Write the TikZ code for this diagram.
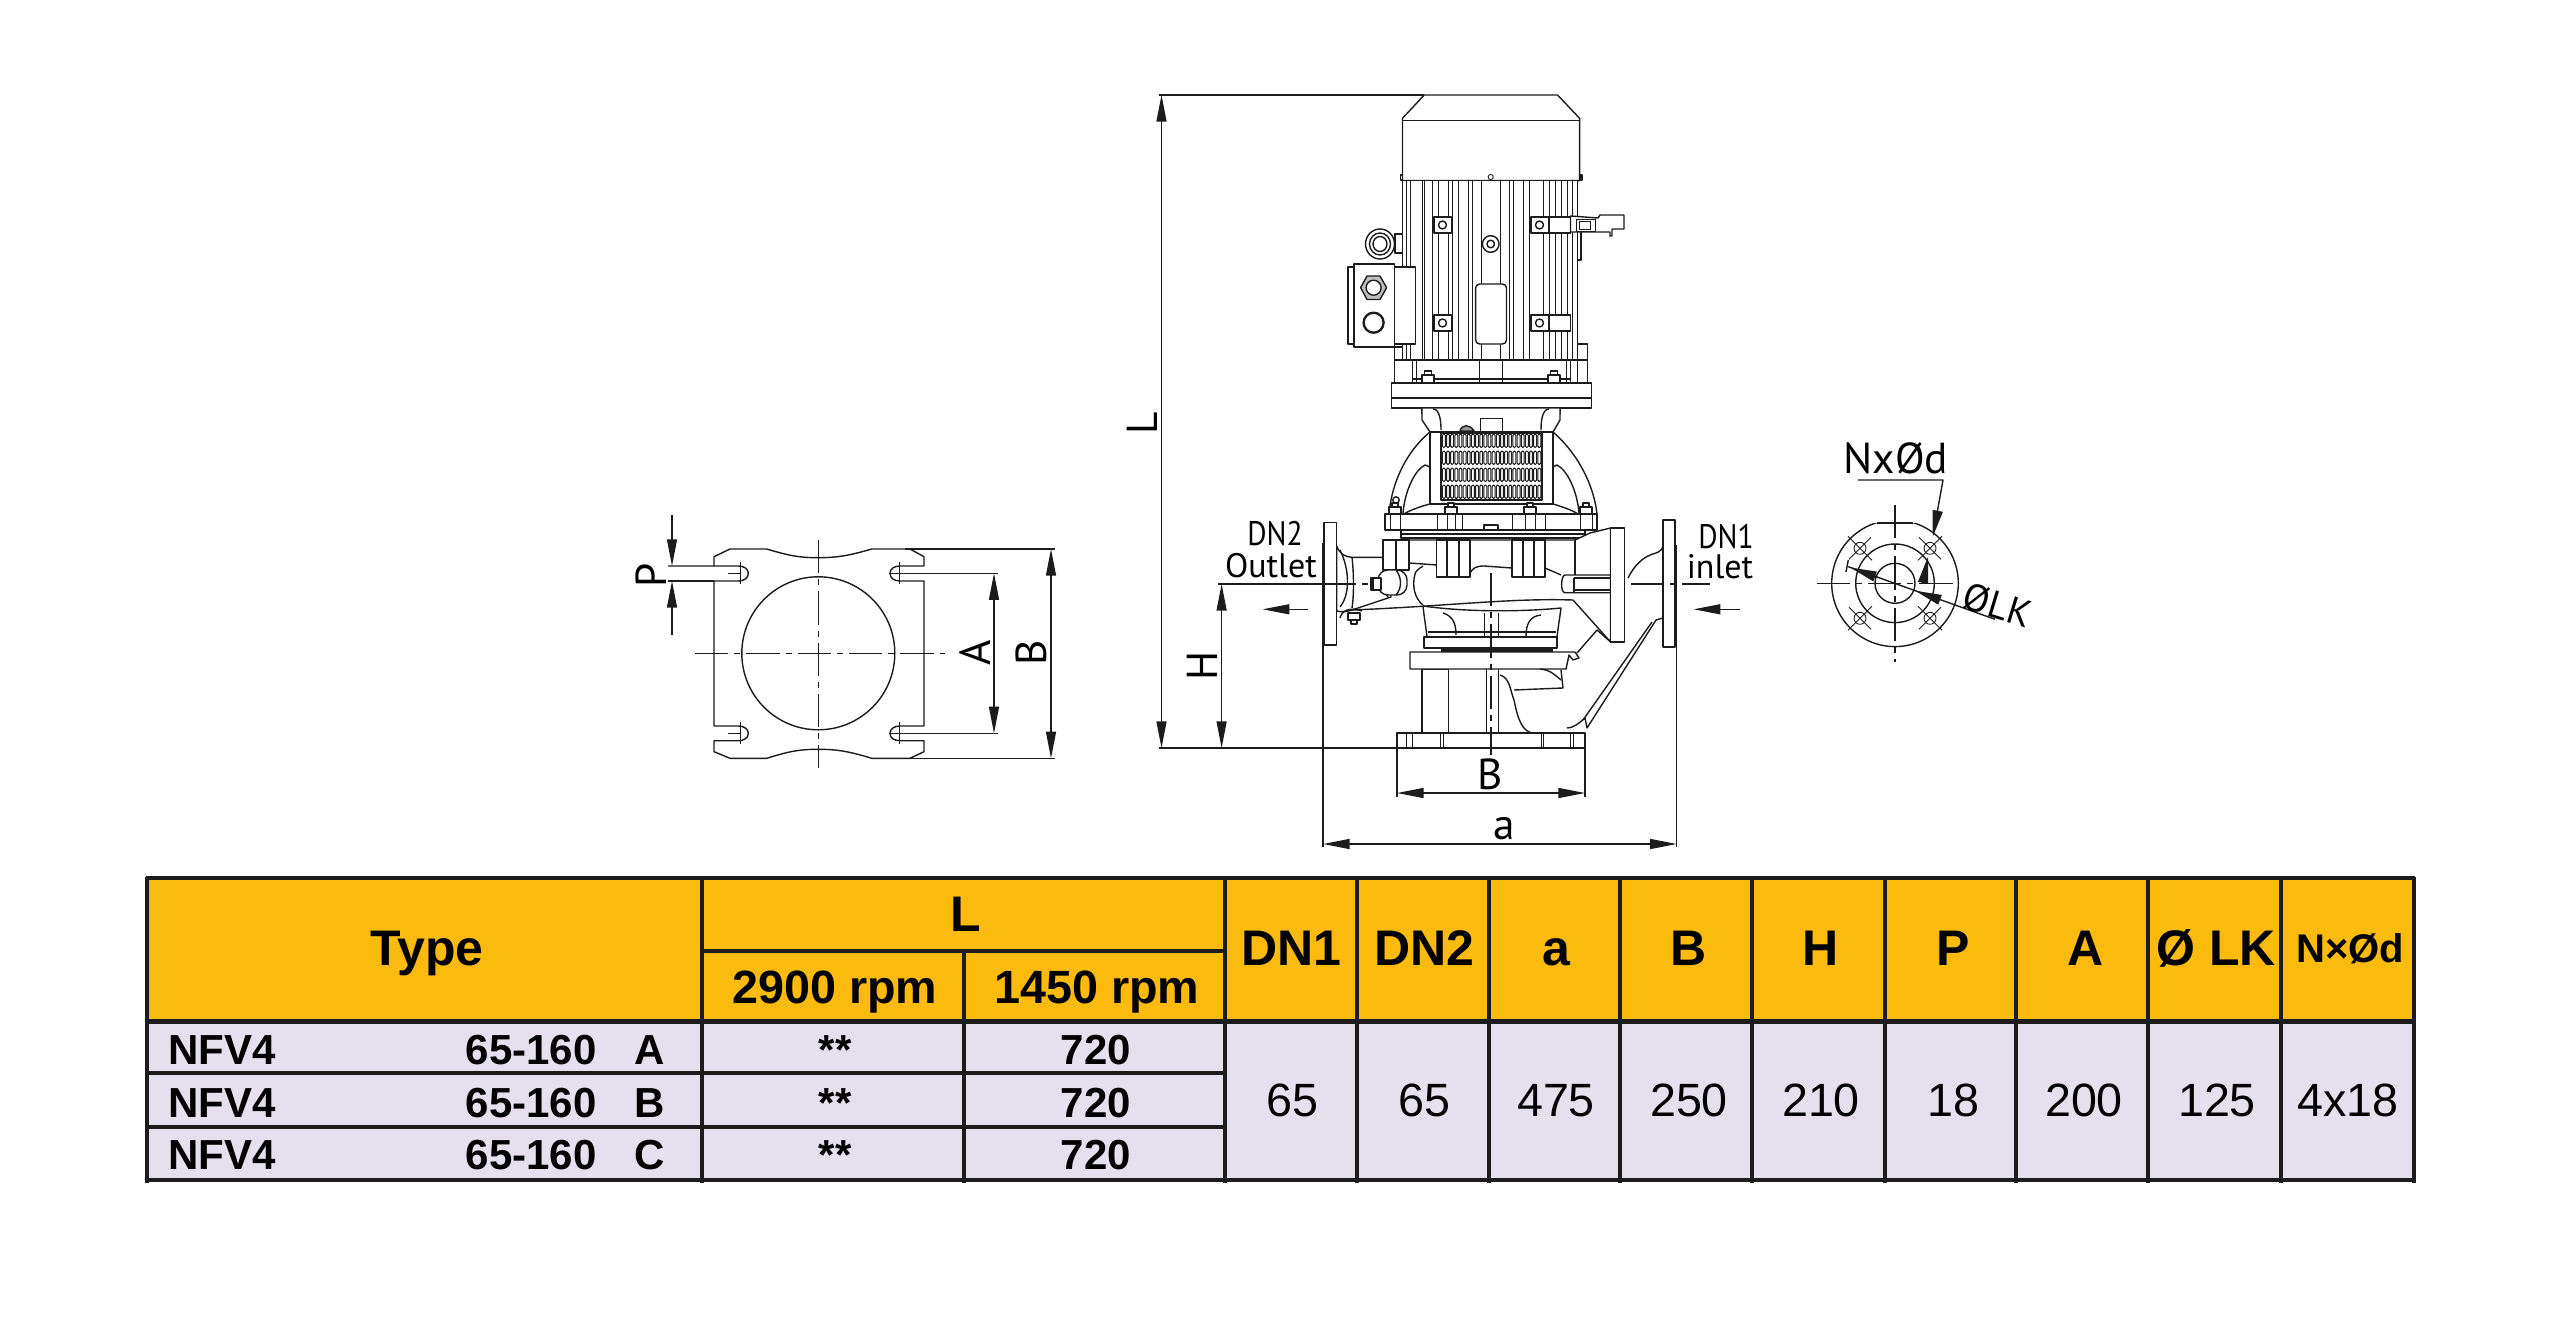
\documentclass[tikz,border=0pt]{standalone}
\usepackage{fontspec}
\usepackage{graphicx}
\setmainfont{Liberation Sans}
\newfontfamily\din{PT Sans}
\usetikzlibrary{arrows.meta}
\definecolor{hdr}{HTML}{FBBA0E}
\definecolor{rowc}{HTML}{E6E0EE}
\definecolor{ink}{HTML}{1C1C1C}
\tikzset{
 x=0.3pt,y=-0.3pt,
 ln/.style={draw=ink,line width=0.42pt,line join=round},
 thin ln/.style={draw=ink,line width=0.26pt},
 solidwhite/.style={ln,fill=white},
 dim/.style={draw=ink,line width=0.42pt,{Triangle[length=8pt,width=3pt]}-{Triangle[length=8pt,width=3pt]}},
 tipend/.style={draw=ink,line width=0.42pt,-{Triangle[length=8pt,width=3pt]}},
 axis/.style={draw=ink,line width=0.4pt,dash pattern=on 10pt off 1.8pt on 1.8pt off 1.8pt},
 grid/.style={draw=ink,line width=0.95pt},
 hb/.style={anchor=base,inner sep=0,font=\fontsize{15}{15}\selectfont\bfseries},
 hs/.style={anchor=base,inner sep=0,font=\fontsize{14}{14}\selectfont\bfseries},
 rowt/.style={anchor=base,inner sep=0,font=\fontsize{12.6}{12.6}\selectfont\bfseries},
 val/.style={anchor=base,inner sep=0,font=\fontsize{14}{14}\selectfont},
 lab/.style={anchor=base,inner sep=0,font=\din\fontsize{13}{13}\selectfont},
 lab2/.style={anchor=base,inner sep=0,font=\din\fontsize{10.2}{10.2}\selectfont},
}
\begin{document}
\begin{tikzpicture}
\useasboundingbox (0,0) rectangle (2560,1332);
\fill[white] (0,0) rectangle (2560,1332);

% ---------- table
\fill[hdr] (147,878) rectangle (2414,1020);
\fill[rowc] (147,1021) rectangle (2414,1180);
\foreach \x in {702,1225,1357,1489,1620,1752,1885,2016,2148,2281}
  \draw[grid] (\x,878) -- (\x,1183);
\draw[grid] (964,951) -- (964,1183);
\draw[grid] (147,877) -- (147,1183);
\draw[grid] (2414,877) -- (2414,1183);
\draw[grid] (146,878) -- (2415,878);
\draw[grid] (702,951) -- (1225,951);
\draw[draw=ink,line width=1.5pt] (146,1021) -- (2415,1021);
\draw[grid] (147,1073) -- (1225,1073);
\draw[grid] (147,1127) -- (1225,1127);
\draw[draw=ink,line width=1.2pt] (146,1180) -- (2415,1180);

\node[hb] (tType) at (427,965) {Type};
\node[hb] (tL) at (966,931) {L};
\node[hs] (t29) at (835,1003) {2900 rpm};
\node[hs] (t14) at (1097,1003) {1450 rpm};
\node[hb] (hDNa) at (1291,965) {DN1};
\node[hb] (hDNb) at (1424,965) {DN2};
\node[hb] (ha) at (1556,965) {a};
\node[hb] (hB) at (1689,965) {B};
\node[hb] (hH) at (1821,965) {H};
\node[hb] (hP) at (1953,965) {P};
\node[hb] (hA) at (2086,965) {A};
\node[hb] (hLK) at (2216,965) {Ø LK};
\node[anchor=base,inner sep=0,font=\fontsize{12}{12}\selectfont\bfseries] (hNd) at (2350,962) {N×Ød};

\node[rowt,anchor=base west] (r1a) at (168,1064) {NFV4};
\node[rowt,anchor=base west] (r1b) at (465,1064) {65-160};
\node[rowt] (r1c) at (650,1064) {A};
\node[rowt] (r1d) at (835,1064) {**};
\node[rowt] (r1e) at (1096,1064) {720};
\node[rowt,anchor=base west] (r2a) at (168,1117) {NFV4};
\node[rowt,anchor=base west] (r2b) at (465,1117) {65-160};
\node[rowt] (r2c) at (650,1117) {B};
\node[rowt] (r2d) at (835,1117) {**};
\node[rowt] (r2e) at (1096,1117) {720};
\node[rowt,anchor=base west] (r3a) at (168,1169) {NFV4};
\node[rowt,anchor=base west] (r3b) at (465,1169) {65-160};
\node[rowt] (r3c) at (650,1169) {C};
\node[rowt] (r3d) at (835,1169) {**};
\node[rowt] (r3e) at (1096,1169) {720};

\node[val] (v1) at (1292,1116) {65};
\node[val] (v2) at (1424,1116) {65};
\node[val] (v3) at (1556,1116) {475};
\node[val] (v4) at (1689,1116) {250};
\node[val] (v5) at (1821,1116) {210};
\node[val] (v6) at (1953,1116) {18};
\node[val] (v7) at (2084,1116) {200};
\node[val] (v8) at (2217,1116) {125};
\node[val] (v9) at (2348,1116) {4x18};

% ---------- plan view of base
\draw[ln] (714,566) -- (714,556.7) -- (730,549) -- (766.7,549)
  .. controls (790,556) and (800,557.7) .. (818.3,557.7)
  .. controls (836,557.7) and (848,556) .. (871.7,549)
  -- (910,549) -- (924,556.7) -- (924,566) -- (900,566)
  .. controls (894,566) and (890,569) .. (890,573.3)
  .. controls (890,578) and (894,581) .. (900,581)
  -- (924,581) -- (924,726) -- (900,726)
  .. controls (894,726) and (890,729) .. (890,733.3)
  .. controls (890,738) and (894,740.7) .. (900,740.7)
  -- (924,740.7) -- (924,751.7) -- (910,758.3) -- (871.7,758.3)
  .. controls (848,751) and (836,749.3) .. (818.3,749.3)
  .. controls (800,749.3) and (790,751) .. (766.7,758.3)
  -- (730,758.3) -- (714,751.7) -- (714,740.7) -- (738.3,740.7)
  .. controls (744,740.7) and (748.3,738) .. (748.3,733.3)
  .. controls (748.3,729) and (744,726) .. (738.3,726)
  -- (714,726) -- (714,581) -- (738.3,581)
  .. controls (744,581) and (748.3,578) .. (748.3,573.3)
  .. controls (748.3,569) and (744,566) .. (738.3,566)
  -- (668,566);
\draw[ln] (668,581) -- (714,581);
\draw[ln] (818.3,653.3) circle[radius=76.5];
\draw[axis] (695,653.3) -- (945,653.3);
\draw[axis] (818.3,540) -- (818.3,768);
\foreach \cx/\cy in {738/573.3,738/733.3}{
  \draw[thin ln] (\cx-10,\cy) -- (\cx+2,\cy);
  \draw[thin ln] (\cx+2,\cy-11) -- (\cx+2,\cy+11);}
\foreach \cx/\cy in {899/573.3,899/733.3}{
  \draw[thin ln] (\cx-10,\cy) -- (\cx+2,\cy);
  \draw[thin ln] (\cx,\cy-11) -- (\cx,\cy+11);}
\draw[tipend] (672,515) -- (672,566);
\draw[tipend] (672,635) -- (672,581);
\draw[ln] (900,573.3) -- (998,573.3);
\draw[ln] (900,733.3) -- (998,733.3);
\draw[dim] (994,573.3) -- (994,733.3);
\draw[ln] (905,549) -- (1055,549);
\draw[ln] (905,758.3) -- (1055,758.3);
\draw[dim] (1051,549) -- (1051,758.3);
\node[lab,rotate=90] (lP) at (666,575) {P};
\node[lab,rotate=90] (lA) at (990,653) {A};
\node[lab,rotate=90] (lBp) at (1046,653) {B};

% ---------- main dimension lines
\coordinate (Ltop) at (1161.5,95);
\coordinate (Lbot) at (1161.5,748);
\draw[ln] (1159,95) -- (1424,95);
\draw[ln] (1159,748) -- (1397,748);
\draw[dim] (Ltop) -- (Lbot);
\node[lab,rotate=90] (lL) at (1157,423) {L};
\draw[ln] (1218,584) -- (1323,584);
\draw[dim] (1221.6,584) -- (1221.6,748);
\node[lab,rotate=90] (lH) at (1217,666) {H};
\draw[ln] (1323,543) -- (1323,847);
\draw[ln] (1676.7,545) -- (1676.7,847);
\draw[dim] (1323,844) -- (1676.7,844);
\node[lab] (la) at (1504,839) {a};
\draw[ln] (1397,748) -- (1397,797);
\draw[ln] (1585,748) -- (1585,797);
\draw[dim] (1397,793) -- (1585,793);
\node[lab] (lBm) at (1490,789) {B};
\node[lab2] (lDN2) at (1275,545) {\scalebox{.87}[1]{DN2}};
\node[lab2] (lOut) at (1271,577) {Outlet};
\node[lab2] (lDN1) at (1726,548) {\scalebox{.87}[1]{DN1}};
\node[lab2] (lIn) at (1720,578) {inlet};
\draw[tipend] (1308,609.3) -- (1262.7,609.3);
\draw[tipend] (1740,609.3) -- (1693.7,609.3);

% ---------- motor
\draw[solidwhite] (1424.2,95) -- (1557.5,95) -- (1579.6,118.3) -- (1579.6,180.7) -- (1402.5,180.7) -- (1402.5,118.3) -- cycle;
\draw[ln] (1402.5,120.5) -- (1579.6,120.5);
\draw[ln] (1400.5,175) rectangle (1402.5,180);
\draw[ln] (1580,175) rectangle (1582,180);
\draw[thin ln] (1490.7,177) circle[radius=2.6];
\draw[solidwhite] (1402.5,180.7) rectangle (1577.7,360);
\foreach \x in {1406.4,1410,1422,1424,1432,1438,1448,1452,1458,1468,1472,1481.6,1500,1509,1513,1523,1529,1543,1549,1555,1561,1567,1572.5}
  \draw[thin ln] (\x,181) -- (\x,360);
\draw[solidwhite] (1577.7,220) rectangle (1581,260);
% pads
\foreach \px/\py in {1434/217,1434/315}{
  \draw[solidwhite] (\px,\py) rectangle (\px+17.5,\py+16);
  \draw[ln] (\px+8.5,\py+8) circle[radius=4];}
\foreach \px/\py in {1531/217,1531/315}{
  \draw[solidwhite] (\px,\py) rectangle (\px+39.5,\py+16);
  \draw[ln] (\px+18,\py-0) -- (\px+18,\py+16);
  \draw[ln] (\px+8.5,\py+8) circle[radius=4];}
% lug
\draw[solidwhite] (1570.5,216) -- (1570.5,232) -- (1610,232) -- (1610,236) -- (1612,236) -- (1612,229) -- (1624,229) -- (1624,215) -- (1600,215) -- (1598,218) -- cycle;
\draw[thin ln] (1576,219) rectangle (1595,231);
\draw[thin ln] (1579,221) rectangle (1590,229);
% centre channel
\draw[ln,fill=white] (1490.7,244) circle[radius=8.3];
\draw[ln] (1490.7,244) circle[radius=3.8];
\draw[solidwhite,rounded corners=1.2pt] (1475.6,284) rectangle (1506.5,344);
% eye bolt
\draw[ln,fill=white] (1395,234) rectangle (1402.5,253);
\draw[solidwhite] (1380,244) ellipse[x radius=14.5,y radius=15];
\draw[ln] (1380,244) ellipse[x radius=10.5,y radius=11];
\draw[ln] (1380,244) ellipse[x radius=7,y radius=7.5];
% terminal box
\draw[solidwhite] (1394.6,267) rectangle (1415.5,344);
\draw[solidwhite] (1348,267) rectangle (1354,344);
\draw[solidwhite] (1354,264) rectangle (1394.6,347);
\draw[ln,fill=black!25] (1386.6,287.7) -- (1380,276) -- (1367,276) -- (1360.6,287.7) -- (1367,299.5) -- (1380,299.5) -- cycle;
\draw[solidwhite] (1373.6,287.7) circle[radius=7.5];
\draw[ln,line width=.7pt] (1373.6,322.7) circle[radius=10];
% flange band
\draw[solidwhite] (1394.6,347) -- (1394.6,382.7) -- (1587.5,382.7) -- (1587.5,344) -- (1577.7,344) -- (1577.7,360) -- (1402.5,360) -- (1402.5,347) -- cycle;
\draw[ln] (1394.6,360) -- (1587.5,360);
\foreach \x in {1412,1416,1566.6,1570.5,1577.6}
  \draw[thin ln] (\x,360) -- (\x,382);
\draw[ln] (1479.5,360) rectangle (1502.5,383);
\draw[ln] (1412,379) -- (1570,379);
\foreach \x in {1428,1554}{
  \draw[solidwhite] (\x-6,375) rectangle (\x+6,383);
  \draw[solidwhite] (\x-3.5,371) rectangle (\x+3.5,375);}
\draw[solidwhite] (1391.4,383) rectangle (1591.5,408);
\draw[ln] (1391.4,398) -- (1591.5,398);
\draw[ln] (1484,383) -- (1497,383);

% ---------- adapter / lantern
\foreach \x in {1428,1554}{
  \draw[solidwhite] (\x-6,408) rectangle (\x+6,414);}
\draw[solidwhite] (1422,408) -- (1422,420) -- (1430,432) -- (1553,432) -- (1560,420) -- (1560,408) -- cycle;
\draw[ln] (1433,409) .. controls (1440,409) and (1441,422) .. (1441,430);
\draw[ln] (1549,409) .. controls (1542,409) and (1541,422) .. (1541,430);
\draw[thin ln] (1480,418) rectangle (1502,431);
\draw[ln,fill=black!40] (1460,431) .. controls (1462,424) and (1470,424) .. (1474,431) -- cycle;
% arch
\draw[solidwhite] (1389,514)
  .. controls (1392,480) and (1408,450) .. (1430,432)
  -- (1553,432)
  .. controls (1574,450) and (1593,480) .. (1597,514) -- cycle;
\draw[ln] (1403,513) .. controls (1405,490) and (1415,470) .. (1425,465) -- (1430,467);
\draw[ln] (1579,513) .. controls (1577,490) and (1567,470) .. (1557,465) -- (1553,467);
\draw[ln] (1404,514) .. controls (1410,510) and (1422,506) .. (1430,504);
\draw[ln] (1578,514) .. controls (1572,510) and (1560,506) .. (1553,504);
\draw[ln] (1396,500) circle[radius=3.2];
\draw[solidwhite] (1430,432) rectangle (1553,504);
\draw[solidwhite] (1441,433) rectangle (1542,500);
\foreach \yy in {434,451,468,485}
 \foreach \i in {0,...,23}
  \draw[draw=ink,line width=.3pt,rounded corners=.4pt] (1442.4+4.15*\i,\yy) rectangle ++(2.9,13.5);
% housing flange
\foreach \x in {1395,1451,1530,1586}{
  \draw[solidwhite] (\x-6,507) rectangle (\x+6,514);
  \draw[solidwhite] (\x-3,503) rectangle (\x+3,507);}
\draw[solidwhite] (1385,514) rectangle (1597,530);
\foreach \x in {1390,1400,1437,1447,1455,1462,1512,1525,1535,1545,1580,1592}
  \draw[thin ln] (\x,514) -- (\x,530);
\draw[solidwhite] (1401,530) rectangle (1585,538);
\draw[ln] (1401,534) -- (1585,534);
\draw[ln] (1484,530) -- (1484,525) -- (1498,525) -- (1498,530);

% ---------- left flange & pipe
\draw[solidwhite] (1336.6,546) .. controls (1340,554) and (1345,557) .. (1352,557.3) -- (1383,557.3)
  -- (1383,590) -- (1390,600) -- (1352,610) .. controls (1346,612) and (1341,612) .. (1336.6,611) -- cycle;
\draw[ln] (1340,550) .. controls (1350,570) and (1350,595) .. (1340,607);
\draw[ln] (1352,557) .. controls (1354,575) and (1354,595) .. (1352,608);
\draw[solidwhite] (1324,522.7) rectangle (1336.6,645);
\draw[ln] (1340,618) .. controls (1342,610) and (1350,607) .. (1362,611);
\draw[solidwhite] (1348,613) rectangle (1360,620);
\draw[solidwhite] (1351,620) rectangle (1357,624);

% ---------- volute
\draw[solidwhite] (1383,540) -- (1575,540) -- (1590,533) -- (1610.6,528) -- (1610.6,642) -- (1573,600)
  .. controls (1510,598) and (1450,606) .. (1352,610)
  -- (1391,597) -- (1391,570) -- (1383,570) -- cycle;
\draw[ln] (1383,540) rectangle (1409,570);
\draw[ln] (1396,540) -- (1396,570);
\draw[ln] (1409,563) -- (1437,565);
\draw[ln] (1470,573) .. controls (1473,568) and (1476,566) .. (1484,566) -- (1512,568);
\draw[ln] (1545,568) -- (1561,575);
\draw[solidwhite] (1436.7,540) rectangle (1470,577);
\draw[ln] (1447,540) -- (1447,577);
\draw[ln] (1459,540) -- (1459,577);
\draw[solidwhite] (1512,540) rectangle (1545,577);
\draw[ln] (1523,540) -- (1523,577);
\draw[ln] (1534,540) -- (1534,577);
\draw[ln] (1575,540) -- (1575,575);
\draw[ln] (1415,574) .. controls (1412,585) and (1414,598) .. (1423,605);
\draw[ln] (1423,566) .. controls (1418,569) and (1415,572) .. (1415,574);
% side sleeve
\draw[solidwhite] (1610.6,575) -- (1565,575) .. controls (1561,575) and (1560,592.7) .. (1565,592.7) -- (1610.6,592.7) -- cycle;
\draw[ln] (1574,578) -- (1610,578);
\draw[ln] (1574,590) -- (1610,590);
\draw[ln] (1574,578) -- (1574,592);
% side nut
\draw[solidwhite,rounded corners=3pt] (1378,570) rectangle (1407,595);
\draw[ln] (1396,570) .. controls (1402,578) and (1402,588) .. (1396,595);
\draw[solidwhite] (1371,578) rectangle (1381,590);
\draw[ln] (1373,578) -- (1373,590);
% inner right flange
\draw[solidwhite] (1610.6,528) rectangle (1624.5,642);
\draw[ln] (1597,630) -- (1577,653);
\draw[ln] (1610.6,642) -- (1597,630);

% ---------- cup below volute
\draw[solidwhite] (1423,606) .. controls (1424,616) and (1426,628) .. (1427,637) -- (1557,637)
  .. controls (1558,628) and (1560,616) .. (1561,608)
  .. controls (1520,612) and (1465,612) .. (1423,606);
\draw[ln] (1428,632) -- (1556,632);
\draw[ln] (1443,613) .. controls (1452,616) and (1456,622) .. (1456,635);
\draw[ln] (1541,615) .. controls (1530,616) and (1526,624) .. (1526,636);
\foreach \x in {1484,1498} \draw[thin ln] (\x,613) -- (\x,637);
\draw[solidwhite] (1424,637) rectangle (1557,648);
\draw[draw=ink,line width=.9pt] (1441,650) -- (1553,650);

% ---------- lower casing
\draw[solidwhite] (1422,669) -- (1422,733) -- (1448.5,733) -- (1448.5,669) -- cycle;
\draw[thin ln] (1486,669) -- (1486,733);
\draw[thin ln] (1498,669) -- (1498,733);
\draw[ln] (1561,670) -- (1563,688) -- (1514,690);
\draw[solidwhite] (1410,652) -- (1575,652) -- (1579,658) -- (1573,660) -- (1569,655) -- (1566,669) -- (1410,669) -- cycle;
\draw[ln] (1500,675) .. controls (1510,678) and (1510,690) .. (1514,700) .. controls (1518,720) and (1522,730) .. (1531.6,733);
\draw[ln] (1561,680) .. controls (1554,674) and (1550,670) .. (1540,669);
% right diagonal casing
\draw[ln] (1567,728) .. controls (1573,728) and (1578,724) .. (1585,718) -- (1587,728) -- (1656,620) -- (1663,618);
\draw[ln] (1583,720) -- (1652,622);
\draw[ln] (1628,578) .. controls (1634,566) and (1643,556) .. (1656,553) .. controls (1660,552) and (1663,548) .. (1663,546);
\draw[solidwhite] (1397,733) rectangle (1585,748);
\foreach \x in {1406,1412,1440,1443,1541,1543,1570,1573} \draw[thin ln] (\x,733) -- (\x,748);
\draw[solidwhite] (1663,520) rectangle (1675,647);
% centre lines over the pump
\draw[axis] (1491,573) -- (1491,755);
\draw[axis] (1323,584) -- (1372,584);
\draw[axis] (1631,584) -- (1709.5,584);

% ---------- flange end view
\begin{scope}
  \clip (1820,523) rectangle (1970,660);
  \draw[ln] (1895,583.3) circle[radius=63.3];
\end{scope}
\draw[ln] (1877,523) -- (1913,523);
\draw[ln] (1895,583.3) circle[radius=39.3];
\draw[ln] (1895,583.3) circle[radius=20];
\draw[axis] (1816.7,583.3) -- (1956,583.3);
\draw[axis] (1895,505) -- (1895,661.7);
\foreach \sx/\sy in {-1/-1,1/-1,-1/1,1/1}{
  \draw[thin ln] (1895+\sx*35,583.3+\sy*35) circle[radius=6];
  \draw[thin ln] (1895+\sx*23,583.3+\sy*23) -- (1895+\sx*47,583.3+\sy*47);
  \draw[thin ln] (1895+\sx*35+\sy*11,583.3+\sy*35-\sx*11) -- (1895+\sx*35-\sy*11,583.3+\sy*35+\sx*11);
}
\draw[ln] (1858,480) -- (1943,480) -- (1936.7,515);
\draw[tipend] (1937,515) -- (1932.7,537);
\draw[draw=ink,line width=.42pt,{Triangle[length=8pt,width=3pt]}-] (1928,556.7) -- (1923,583);
\draw[ln] (1848.3,566.7) -- (1995,619.3);
\draw[draw=ink,line width=.42pt,-{Triangle[length=8pt,width=3pt]}] (1878,577.5) -- (1850,567.5);
\draw[draw=ink,line width=.42pt,-{Triangle[length=8pt,width=3pt]}] (1935,598) -- (1915,590.7);
\draw[ln] (1848.3,560) -- (1846,572);
\node[anchor=base,inner sep=0,font=\din\fontsize{13}{13}\selectfont] (lNd) at (1896,473) {NxØd};
\node[anchor=base,inner sep=0,rotate=-17,font=\din\fontsize{11.5}{11.5}\selectfont] (lLK) at (1994,618) {ØLK};
\end{tikzpicture}
\end{document}
